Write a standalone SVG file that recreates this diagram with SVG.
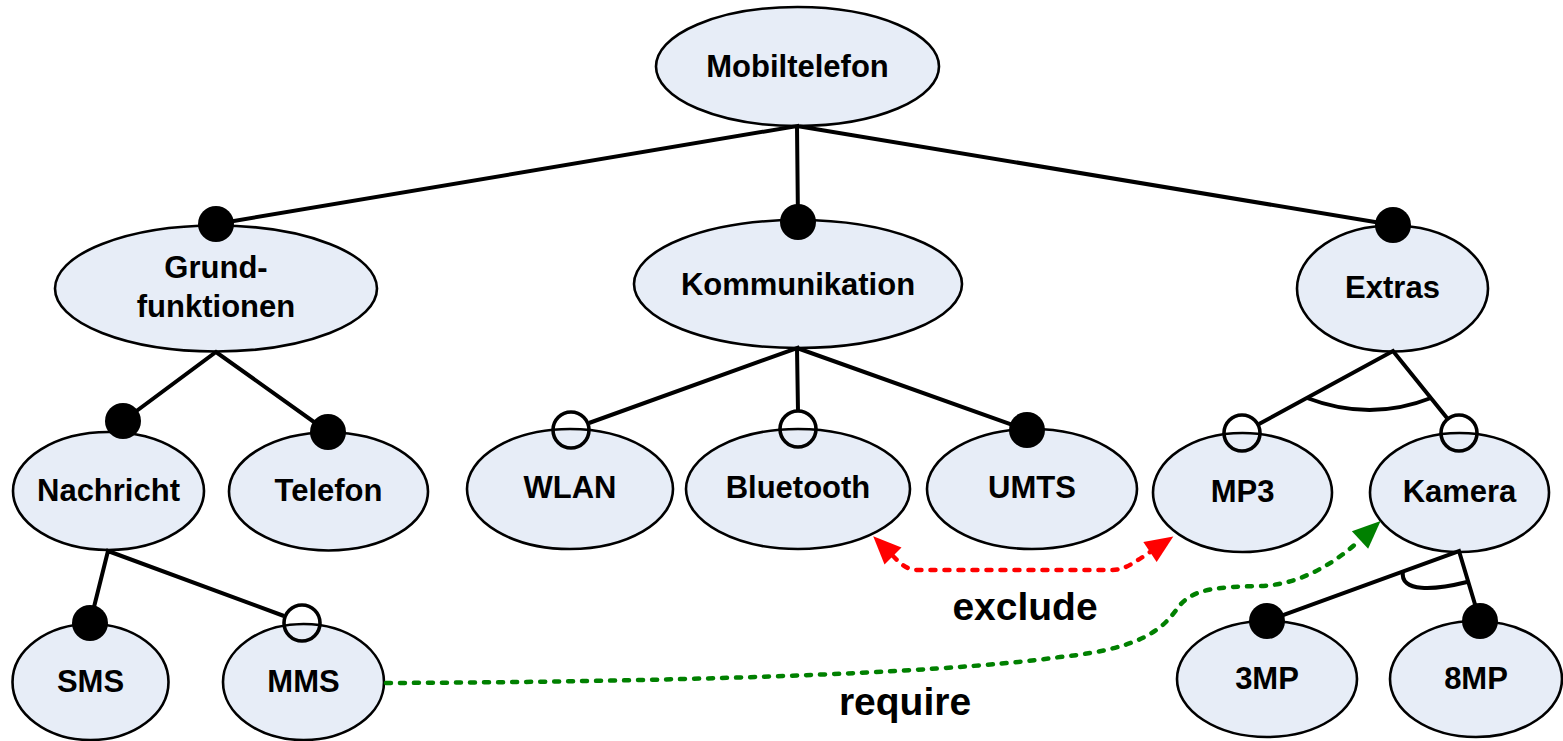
<svg xmlns="http://www.w3.org/2000/svg" width="1563" height="741" viewBox="0 0 1563 741">
<style>
.node ellipse{fill:#E7EDF7;stroke:#000;stroke-width:2.6}
.node text{font-family:"Liberation Sans",Arial,sans-serif;font-weight:bold;font-size:31px;fill:#000;text-anchor:middle}
.big{font-size:32px}
.edge{stroke:#000;stroke-width:4;fill:none}
.dot{fill:#000}
.open{fill:none;stroke:#000;stroke-width:3.6}
.ex{stroke:#FF0000;stroke-width:4.5;fill:none;stroke-dasharray:5 9;stroke-linecap:round}
.rq{stroke:#008000;stroke-width:4.5;fill:none;stroke-dasharray:5 9;stroke-linecap:round}
.lbl{font-family:"Liberation Sans",Arial,sans-serif;font-weight:bold;font-size:39px;fill:#000;text-anchor:middle}
</style>
<defs>
<marker id="ar" markerUnits="userSpaceOnUse" viewBox="-2 -14 32 28" markerWidth="32" markerHeight="28" refX="0" refY="0" orient="auto-start-reverse" overflow="visible"><path d="M0,-12 L28,0 L0,12 Z" fill="#FF0000"/></marker>
<marker id="ag" markerUnits="userSpaceOnUse" viewBox="-2 -14 32 28" markerWidth="32" markerHeight="28" refX="0" refY="0" orient="auto" overflow="visible"><path d="M0,-12 L28,0 L0,12 Z" fill="#008000"/></marker>
</defs>

<g id="n-mobiltelefon" class="node"><ellipse cx="797.5" cy="66.5" rx="141.5" ry="59.5"/><text x="797.5" y="77" class="big">Mobiltelefon</text></g>
<g id="n-grundfunktionen" class="node"><ellipse cx="216" cy="288.5" rx="161" ry="63"/><text x="216" y="278" class="big">Grund-</text><text x="216" y="317" class="big">funktionen</text></g>
<g id="n-kommunikation" class="node"><ellipse cx="798" cy="284" rx="164" ry="64"/><text x="798" y="295" class="big">Kommunikation</text></g>
<g id="n-extras" class="node"><ellipse cx="1392.5" cy="288.5" rx="95.5" ry="63"/><text x="1392.5" y="298" class="big">Extras</text></g>
<g id="n-nachricht" class="node"><ellipse cx="108.5" cy="491" rx="95.5" ry="59"/><text x="108.5" y="501">Nachricht</text></g>
<g id="n-telefon" class="node"><ellipse cx="328.5" cy="491.5" rx="99.5" ry="59"/><text x="328.5" y="501">Telefon</text></g>
<g id="n-wlan" class="node"><ellipse cx="570" cy="489" rx="103" ry="60"/><text x="570" y="498">WLAN</text></g>
<g id="n-bluetooth" class="node"><ellipse cx="798" cy="489" rx="112" ry="60"/><text x="798" y="498">Bluetooth</text></g>
<g id="n-umts" class="node"><ellipse cx="1032" cy="489" rx="105" ry="60"/><text x="1032" y="498">UMTS</text></g>
<g id="n-mp3" class="node"><ellipse cx="1242.5" cy="492.5" rx="89.5" ry="59.5"/><text x="1242.5" y="502">MP3</text></g>
<g id="n-kamera" class="node"><ellipse cx="1459.5" cy="492.5" rx="89.5" ry="59.5"/><text x="1459.5" y="502" class="big">Kamera</text></g>
<g id="n-sms" class="node"><ellipse cx="90.5" cy="682" rx="78" ry="58"/><text x="90.5" y="692">SMS</text></g>
<g id="n-mms" class="node"><ellipse cx="303.5" cy="682" rx="80.5" ry="58"/><text x="303.5" y="692" class="big">MMS</text></g>
<g id="n-3mp" class="node"><ellipse cx="1267" cy="679" rx="90" ry="58"/><text x="1267" y="689">3MP</text></g>
<g id="n-8mp" class="node"><ellipse cx="1476" cy="679" rx="86" ry="58"/><text x="1476" y="689">8MP</text></g>

<g id="connectors">
<path class="edge" d="M216,224 L797,126 L798,222 M797,126 L1393,225"/>
<path class="edge" d="M123,421 L216,352 L328,432"/>
<path class="edge" d="M589,423 L797,348 L798,411 M797,348 L1027,430"/>
<path class="edge" d="M1259,424 L1393,351 L1447,418"/>
<path class="edge" d="M1307,398 Q1370,422 1431,398" stroke-width="3.6"/>
<path class="edge" d="M90,623 L108,551 L284,616"/>
<path class="edge" d="M1267,621 L1459,551 L1480,621"/>
<path class="edge" d="M1403,571 C1399,593 1435,590 1467,582" stroke-width="3.6"/>
<circle class="dot" cx="216" cy="224" r="18"/>
<circle class="dot" cx="798" cy="222" r="18"/>
<circle class="dot" cx="1393" cy="225" r="18"/>
<circle class="dot" cx="123" cy="421" r="18"/>
<circle class="dot" cx="328" cy="432" r="18"/>
<circle class="open" cx="571" cy="430" r="18"/>
<circle class="open" cx="798" cy="429" r="18"/>
<circle class="dot" cx="1027" cy="430" r="18"/>
<circle class="open" cx="1242" cy="433" r="18"/>
<circle class="open" cx="1459" cy="433" r="18"/>
<circle class="dot" cx="90" cy="623" r="18"/>
<circle class="open" cx="302" cy="623" r="18"/>
<circle class="dot" cx="1267" cy="621" r="18"/>
<circle class="dot" cx="1480" cy="621" r="18"/>
<path class="ex" d="M893,556 C900,563 906,570 918,570 L1112,570 C1125,570 1135,562 1150,552" marker-start="url(#ar)" marker-end="url(#ar)"/>
<path class="rq" d="M386,683 C650,682 930,675 1060,657 C1150,648 1165,625 1180,605 C1195,588 1220,587 1260,586 C1300,585 1335,563 1360,540" marker-end="url(#ag)"/>
<text class="lbl" x="1025" y="620">exclude</text>
<text class="lbl" x="905" y="715">require</text>
</g>
</svg>
